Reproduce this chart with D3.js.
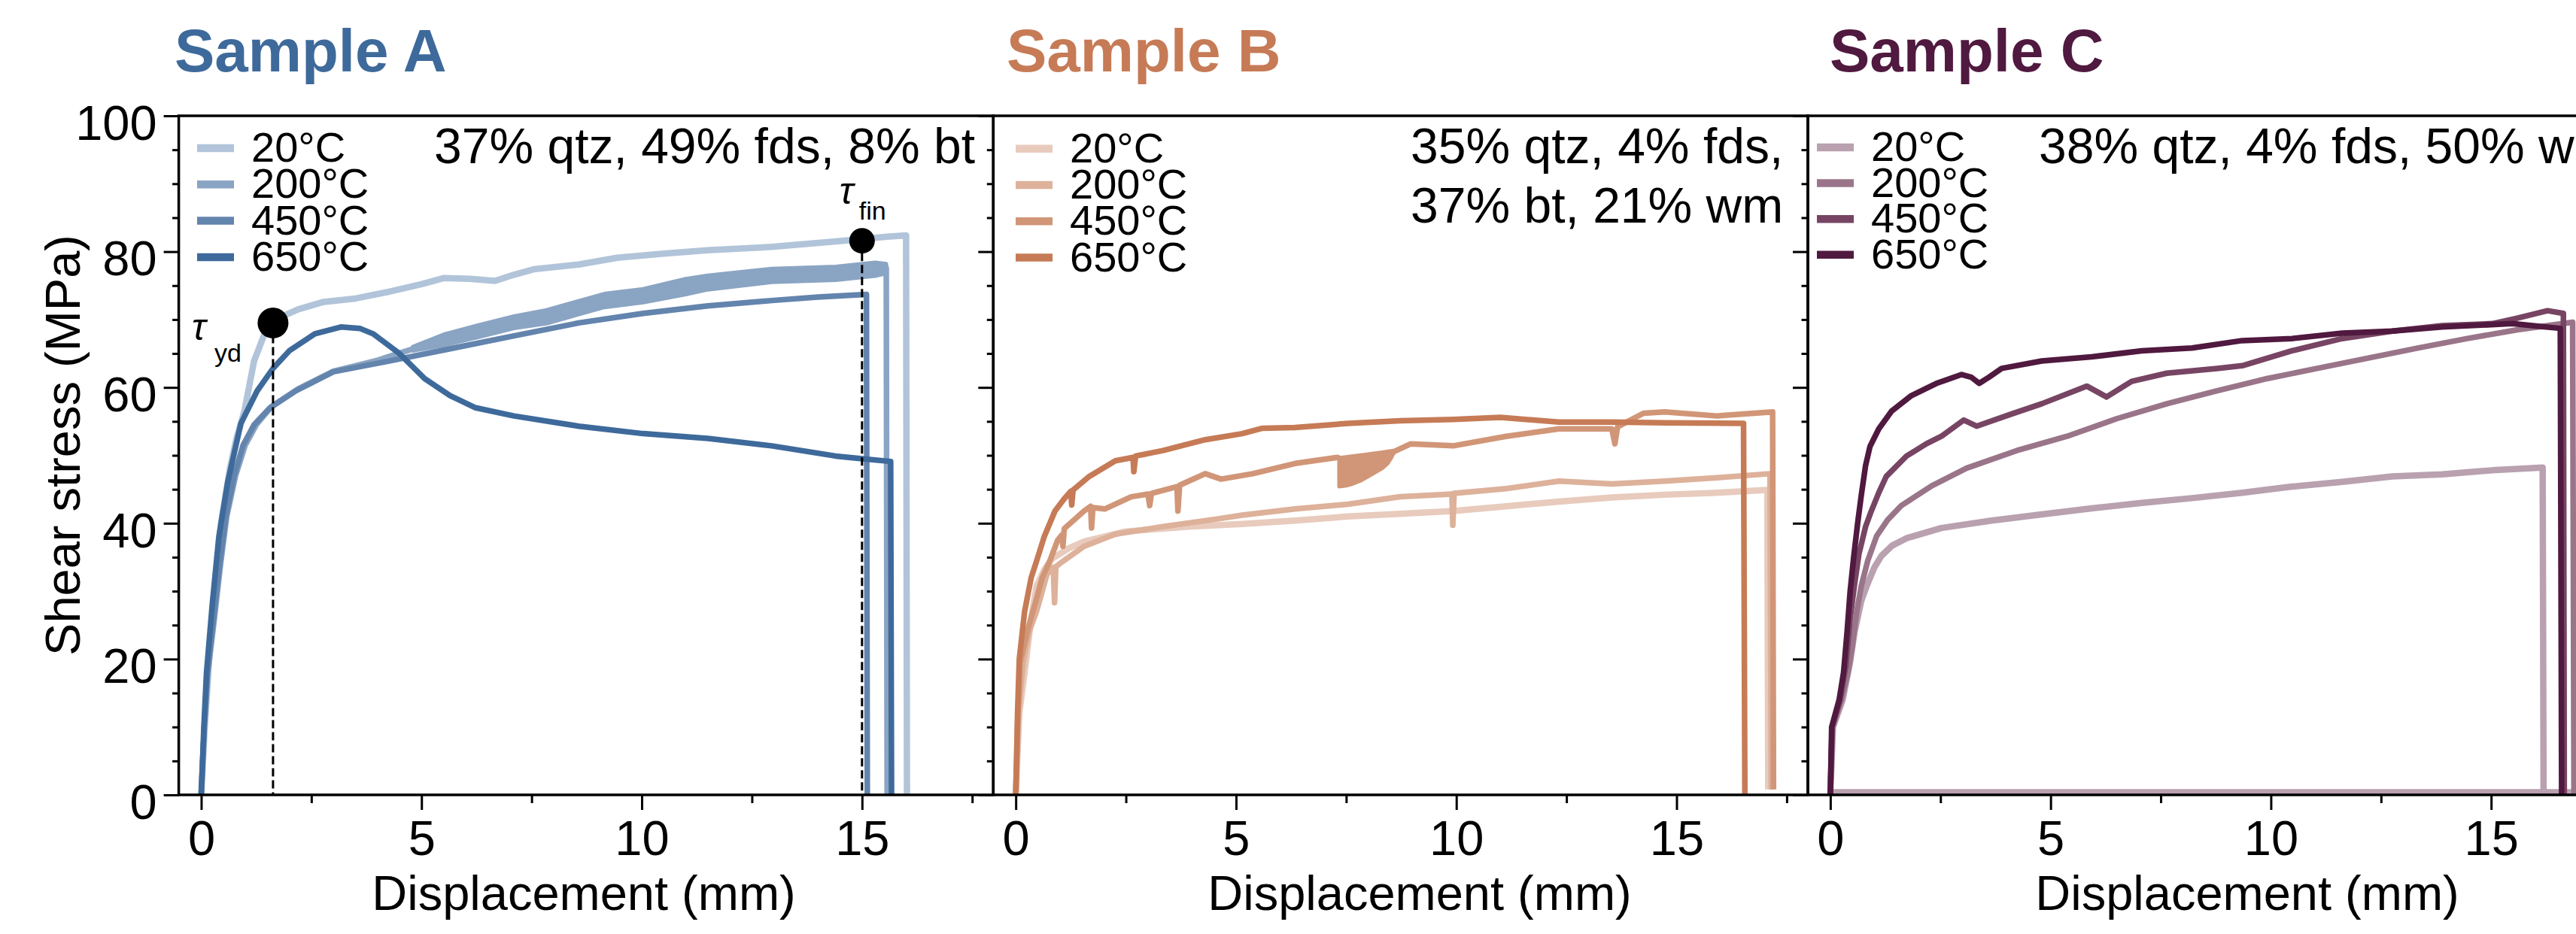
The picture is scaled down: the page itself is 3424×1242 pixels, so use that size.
<!DOCTYPE html>
<html>
<head>
<meta charset="utf-8">
<script src="https://d3js.org/d3.v7.min.js"></script>
<style>
  body { margin: 0; background: #fff; overflow: hidden; }
  svg { display: block; font-family: 'Liberation Sans', Arial, sans-serif; }
</style>
</head>
<body>
<script>
// ---- data ----
const temps = ['20°C', '200°C', '450°C', '650°C'];
const titles = ['Sample A', 'Sample B', 'Sample C'];
const notes = [
  ['37% qtz, 49% fds, 8% bt'],
  ['35% qtz, 4% fds,', '37% bt, 21% wm'],
  ['38% qtz, 4% fds, 50% wm']
];
const titleColors = ['#3e6a9b', '#c67b56', '#50193f'];
const blues = ['#b1c4d9', '#8aa4c3', '#6384ad', '#3e6a9b'];
const oranges = ['#e8cbbd', '#ddb19a', '#d19677', '#c67b56'];
const purples = ['#b9a1b0', '#9a7589', '#774563', '#50193f'];

const xMajor = [0, 5, 10, 15];
const xMinor = [2.5, 7.5, 12.5, 17.5];
const yMajor = [0, 20, 40, 60, 80, 100];
const yMinor = [5, 10, 15, 25, 30, 35, 45, 50, 55, 65, 70, 75, 85, 90, 95];

// tau yield / tau final, sample A  [mm, MPa]
const tauYd = [1.63, 69.5];
const tauFin = [15.0, 81.6];

// sample A  [displacement mm, shear stress MPa]
const a20 = [[0,0],[0.08,10],[0.18,20],[0.3,30],[0.45,40],[0.65,48],[0.8,52.5],[0.98,56.5],[1.2,63.9],[1.42,67.6],
  [1.63,69.4],[1.85,70.5],[2.2,71.5],[2.78,72.6],[3.5,73.1],[4.19,74.0],[5.0,75.2],[5.5,76.1],[6.1,76.0],[6.67,75.7],
  [7.1,76.6],[7.55,77.4],[8.57,78.1],[9.44,79.1],[10.5,79.7],[11.49,80.2],[12.95,80.7],[14.41,81.5],[15.57,82.2],
  [16.0,82.4],[16.02,0]];
const a200 = [[0,0],[0.07,10],[0.15,18],[0.3,26],[0.44,34],[0.58,41],[0.78,47],[1.0,51.5],[1.25,54.5],[1.6,57.2],
  [2.2,59.8],[3.0,62.4],[4.0,64.0],[4.77,65.6],[5.5,67.0],[6.3,68.3],[7.1,69.6],[7.84,70.4],[8.6,71.8],[9.15,72.8],
  [10.03,73.5],[11.5,75.4],[12.95,76.5],[14.4,76.8],[15.55,77.6],[15.57,0]];
// noisy envelope of the 200°C record  [mm, low, high]
const a200Band = [[4.8,65.4,66.0],[5.5,66.2,67.8],[6.3,67.4,69.2],[7.1,68.7,70.5],[7.84,69.4,71.4],[8.6,70.8,72.8],
  [9.15,71.8,73.8],[10.03,72.5,74.5],[11.0,73.7,76.0],[11.5,74.4,76.5],[12.95,75.5,77.5],[14.4,75.8,77.8],
  [15.3,76.4,78.4],[15.55,76.8,78.2]];
const a450 = [[0,0],[0.07,10],[0.14,18],[0.28,26],[0.42,34],[0.56,41],[0.75,47],[0.95,51.5],[1.2,54.5],[1.56,57],
  [2.15,59.5],[3.0,62.3],[4.2,63.8],[5.65,65.7],[7.1,67.6],[8.57,69.5],[10.03,70.9],[11.5,72.0],[12.95,72.8],
  [14.0,73.3],[15.1,73.7],[15.12,0]];
const a650 = [[0,0],[0.06,10],[0.12,18],[0.25,28],[0.4,38],[0.6,46],[0.9,54.7],[1.27,59.5],[1.63,62.8],[2.0,65.4],
  [2.58,67.9],[3.17,68.9],[3.6,68.7],[3.9,67.9],[4.48,65.1],[5.07,61.3],[5.65,58.8],[6.23,57.0],[7.1,55.8],
  [8.57,54.3],[10.03,53.2],[11.5,52.5],[12.95,51.4],[14.4,49.9],[15.0,49.5],[15.65,49.1],[15.67,0]];

// sample B
const b20 = [[0,0],[0.08,12],[0.23,19.6],[0.35,26],[0.47,30.7],[0.65,33.2],[0.83,34.8],[1.2,36.3],[1.55,37.3],
  [2.5,38.8],[3.94,39.5],[5.14,39.9],[6.34,40.4],[7.54,41.0],[8.73,41.4],[9.93,41.8],[11.13,42.5],[12.33,43.2],
  [13.53,43.8],[14.73,44.2],[15.92,44.5],[17.06,44.9],[17.08,0.8]];
const b200 = [[0,0],[0.06,12],[0.17,19.6],[0.3,24],[0.47,27],[0.71,32.5],[0.85,33.5],[0.88,28.3],[0.91,33.6],
  [1.07,34.4],[1.55,36.6],[2.26,38.4],[3.34,39.5],[4.54,40.6],[5.14,41.2],[6.34,42.1],[7.54,42.8],[8.73,43.9],
  [9.9,44.3],[9.92,39.7],[9.95,44.4],[11.13,45.1],[12.33,46.2],[13.53,45.8],[14.73,46.2],[15.92,46.7],[17.12,47.3],
  [17.15,0.8]];
const b450 = [[0,0],[0.05,12],[0.1,19.6],[0.3,25],[0.47,28.9],[0.6,32],[0.77,34.4],[0.95,37.5],[1.05,38.3],
  [1.07,36.6],[1.1,39.2],[1.55,41.8],[1.7,42.5],[1.72,39.3],[1.75,42.3],[2.02,42.1],[2.62,43.9],[3.0,44.3],
  [3.04,42.6],[3.08,44.4],[3.66,45.4],[3.68,41.8],[3.72,45.6],[4.3,47.3],[4.66,46.5],[5.38,47.3],[6.34,48.8],
  [7.3,49.7],[7.36,49.5],[7.84,49.9],[8.32,50.3],[8.6,50.6],[8.97,51.7],[9.93,51.4],[11.13,52.8],[12.33,53.9],
  [13.53,53.9],[13.6,51.7],[13.66,54.2],[14.25,56.2],[14.73,56.4],[15.92,55.8],[17.18,56.4],[17.2,0.8]];
// stick-slip envelope of the 450°C record  [mm, low, high]
const b450Band = [[7.34,45.4,49.5],[7.48,45.5,49.6],[7.6,45.7,49.7],[7.84,46.3,49.9],[8.08,47.2,50.1],
  [8.32,48.1,50.3],[8.44,48.8,50.4],[8.52,49.6,50.5],[8.6,50.6,50.6]];
const b650 = [[0,0],[0.04,12],[0.08,20],[0.2,27],[0.35,32],[0.47,34.4],[0.65,38.1],[0.89,41.8],[1.1,43.6],
  [1.25,44.7],[1.27,42.7],[1.3,44.9],[1.67,46.9],[2.26,49.2],[2.66,49.7],[2.68,47.6],[2.72,49.9],[3.34,50.7],
  [4.3,52.3],[5.14,53.2],[5.6,54.0],[6.34,54.1],[7.54,54.7],[8.73,55.1],[9.93,55.3],[11.0,55.6],[12.33,54.9],
  [13.53,54.9],[14.73,54.8],[16.52,54.7],[16.55,0]];

// sample C (the 20°C record starts with a flat run along zero)
const c20 = [[17.5,0.4],[0,0.4],[0.06,10],[0.28,14],[0.45,19.6],[0.55,24],[0.7,28.5],[0.82,30.7],[1.0,33.5],
  [1.16,35.2],[1.4,36.7],[1.73,37.8],[2.52,39.3],[3.66,40.4],[4.8,41.3],[5.93,42.2],[7.07,43.0],[8.21,43.7],
  [9.35,44.5],[10.48,45.4],[11.62,46.1],[12.76,46.9],[13.89,47.2],[15.03,47.8],[16.17,48.2],[16.19,0]];
const c200 = [[0,0],[0.05,10],[0.25,14],[0.4,18],[0.5,22],[0.6,27],[0.7,30.7],[0.85,34.5],[1.05,38.1],[1.3,40.5],
  [1.61,42.6],[2.3,45.5],[3.09,48.1],[4.23,50.7],[5.37,52.8],[6.5,55.4],[7.64,57.6],[8.78,59.5],[9.91,61.3],
  [11.05,62.8],[12.19,64.3],[13.33,65.8],[14.46,67.2],[15.6,68.5],[16.28,69.1],[16.85,69.6],[16.88,0]];
const c450 = [[0,0],[0.04,10],[0.22,14],[0.35,19],[0.45,26],[0.55,31],[0.65,35.5],[0.8,39.5],[0.93,41.8],
  [1.1,44.5],[1.27,46.9],[1.73,49.9],[2.18,51.7],[2.52,52.8],[3.03,55.2],[3.32,54.3],[4.12,56.1],[4.8,57.6],
  [5.82,60.2],[6.27,58.6],[6.84,60.9],[7.64,62.1],[8.78,62.8],[9.35,63.2],[10.48,65.4],[11.62,67.2],[12.76,68.3],
  [13.89,69.1],[15.03,69.4],[15.59,70.2],[16.28,71.3],[16.64,70.9],[16.66,0]];
const c650 = [[0,0],[0.03,10],[0.2,14],[0.3,18],[0.38,24],[0.45,30],[0.53,35],[0.62,40],[0.7,44],[0.8,48.5],
  [0.9,51.3],[1.1,53.9],[1.39,56.5],[1.84,58.8],[2.41,60.6],[2.98,61.9],[3.2,61.5],[3.38,60.6],[3.6,61.5],
  [3.89,62.8],[4.8,63.9],[5.93,64.5],[7.07,65.4],[8.21,65.8],[9.35,66.9],[10.48,67.2],[11.62,68.0],[12.76,68.3],
  [13.89,68.9],[15.48,69.4],[16.1,69.0],[16.57,68.7],[16.6,0]];

// ---- layout ----
const W = 3424, H = 1242;
const left0 = 237.6, panelW = 1082.7, plotTop = 154, plotBottom = 1057;
const fontTick = 65, fontLegend = 56;

const panels = [
  { series: [a20, a200, a450, a650], bands: [null, a200Band, null, null], colors: blues,
    titleX: 232, noteX: 577, legX: 262, legY: 197, legStep: 48.3, xlabX: 776 },
  { series: [b20, b200, b450, b650], bands: [null, null, b450Band, null], colors: oranges,
    titleX: 1338, noteX: 1875, legX: 1350, legY: 197.7, legStep: 48.3, xlabX: 1887 },
  { series: [c20, c200, c450, c650], bands: [null, null, null, null], colors: purples,
    titleX: 2432, noteX: 2710, legX: 2415, legY: 196, legStep: 47.6, xlabX: 2987 }
];

const svg = d3.select('body').append('svg')
  .attr('width', W)
  .attr('height', H);

const y = d3.scaleLinear().domain([0, 100]).range([plotBottom, plotTop]);

function styleAxis(sel, labels) {
  sel.select('.domain').remove();
  sel.selectAll('.tick line').attr('stroke', '#000').attr('stroke-width', 3);
  sel.selectAll('.tick text')
    .attr('fill', '#000')
    .attr('font-size', fontTick)
    .attr('font-family', "'Liberation Sans', Arial, sans-serif");
  if (!labels) sel.selectAll('.tick text').remove();
}

panels.forEach((p, i) => {
  const left = left0 + i * panelW;
  const x = d3.scaleLinear().domain([-0.51, 17.98]).range([left, left + panelW]);
  const g = svg.append('g');

  g.append('clipPath').attr('id', 'clip' + i)
    .append('rect')
    .attr('x', left).attr('y', plotTop)
    .attr('width', panelW).attr('height', plotBottom - plotTop);

  const line = d3.line().x(d => x(d[0])).y(d => y(d[1]));
  const band = d3.area().x(d => x(d[0])).y0(d => y(d[1])).y1(d => y(d[2]));

  const curves = g.append('g').attr('clip-path', `url(#clip${i})`);
  p.series.forEach((s, k) => {
    const c = curves.append('g');
    if (p.bands[k]) {
      c.append('path')
        .datum(p.bands[k])
        .attr('d', band)
        .attr('fill', p.colors[k])
        .attr('stroke', p.colors[k])
        .attr('stroke-width', 5)
        .attr('stroke-linejoin', 'round');
    }
    c.append('path')
      .datum(s)
      .attr('d', line)
      .attr('fill', 'none')
      .attr('stroke', p.colors[k])
      .attr('stroke-width', k === 0 ? 8.5 : 7.5)
      .attr('stroke-linejoin', 'round');
  });

  // tau markers only on sample A
  if (i === 0) {
    [tauYd, tauFin].forEach((t, j) => {
      g.append('line')
        .attr('x1', x(t[0])).attr('x2', x(t[0]))
        .attr('y1', y(t[1])).attr('y2', y(0))
        .attr('stroke', '#000')
        .attr('stroke-width', 3)
        .attr('stroke-dasharray', '11,5');
      g.append('circle')
        .attr('cx', x(t[0])).attr('cy', y(t[1]))
        .attr('r', j === 0 ? 20.5 : 17)
        .attr('fill', '#000');
    });
    const tau = (px, py, sub, dx, dy) => {
      g.append('text').attr('x', px).attr('y', py)
        .attr('font-size', 50).attr('font-style', 'italic').text('τ');
      g.append('text').attr('x', px + dx).attr('y', py + dy)
        .attr('font-size', 34).text(sub);
    };
    tau(x(tauYd[0]) - 108, y(tauYd[1]) + 23, 'yd', 30, 29);
    tau(x(tauFin[0]) - 30, y(tauFin[1]) - 49, 'fin', 26, 21);
  }

  // axes
  const xa = g.append('g').attr('transform', `translate(0,${plotBottom})`)
    .call(d3.axisBottom(x).tickValues(xMajor).tickSize(20).tickPadding(14).tickFormat(d3.format('d')));
  styleAxis(xa, true);
  const xm = g.append('g').attr('transform', `translate(0,${plotBottom})`)
    .call(d3.axisBottom(x).tickValues(xMinor).tickSize(11).tickFormat(''));
  styleAxis(xm, false);

  const ya = g.append('g').attr('transform', `translate(${left},0)`)
    .call(d3.axisLeft(y).tickValues(yMajor).tickSize(20).tickPadding(9).tickFormat(d3.format('d')));
  styleAxis(ya, i === 0);
  ya.selectAll('.tick text').attr('dy', '0.48em');
  const ym = g.append('g').attr('transform', `translate(${left},0)`)
    .call(d3.axisLeft(y).tickValues(yMinor).tickSize(8.5).tickFormat(''));
  styleAxis(ym, false);

  g.append('rect')
    .attr('x', left).attr('y', plotTop)
    .attr('width', panelW).attr('height', plotBottom - plotTop)
    .attr('fill', 'none')
    .attr('stroke', '#000')
    .attr('stroke-width', 3.5);

  // legend
  temps.forEach((t, k) => {
    const ly = p.legY + k * p.legStep;
    g.append('line')
      .attr('x1', p.legX).attr('x2', p.legX + 49)
      .attr('y1', ly).attr('y2', ly)
      .attr('stroke', p.colors[k])
      .attr('stroke-width', 10.5);
    g.append('text')
      .attr('x', p.legX + 72).attr('y', ly + 18)
      .attr('font-size', fontLegend)
      .text(t);
  });

  // composition note
  notes[i].forEach((n, k) => {
    g.append('text')
      .attr('x', p.noteX).attr('y', 217 + k * 79)
      .attr('font-size', 66)
      .text(n);
  });

  // title
  svg.append('text')
    .attr('x', p.titleX).attr('y', 95)
    .attr('font-size', 80)
    .attr('font-weight', 'bold')
    .attr('fill', titleColors[i])
    .text(titles[i]);

  // x label
  svg.append('text')
    .attr('x', p.xlabX).attr('y', 1210)
    .attr('text-anchor', 'middle')
    .attr('font-size', fontTick)
    .text('Displacement (mm)');
});

svg.append('text')
  .attr('transform', 'translate(106,592) rotate(-90)')
  .attr('text-anchor', 'middle')
  .attr('font-size', fontTick)
  .text('Shear stress (MPa)');
</script>
</body>
</html>
